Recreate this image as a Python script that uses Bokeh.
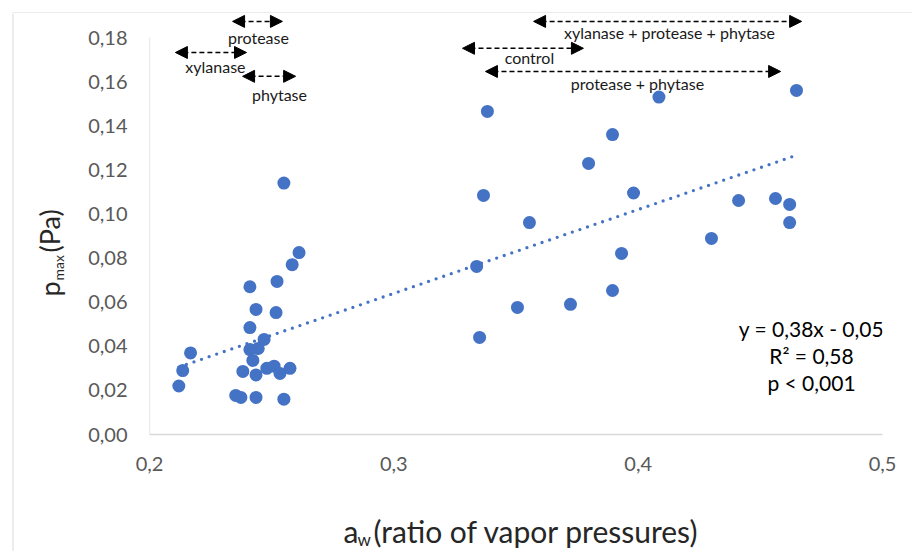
import math
from bokeh.plotting import figure
from bokeh.layouts import row, column
from bokeh.models import (Range1d, FixedTicker, CustomJSTickFormatter, Label,
                          Arrow, NormalHead)
from bokeh.core.properties import value
from bokeh.embed import file_html
from bokeh.resources import INLINE

# ---------------- data ----------------
aw = [0.212, 0.2136, 0.2168, 0.2353, 0.2374, 0.2436, 0.255, 0.2382, 0.2436,
      0.248, 0.251, 0.2534, 0.2575, 0.2423, 0.2411, 0.2445, 0.2469, 0.2411,
      0.2436, 0.2518, 0.2411, 0.2522, 0.2584, 0.2612, 0.255,
      0.3383, 0.3895, 0.3797, 0.3981, 0.3367, 0.3555, 0.3932, 0.3339, 0.3895,
      0.3723, 0.3506, 0.3351, 0.4085, 0.4648, 0.4411, 0.4562, 0.462, 0.462,
      0.430]
pmax = [0.022, 0.029, 0.037, 0.0177, 0.0168, 0.0168, 0.016, 0.0286, 0.027,
        0.030, 0.031, 0.0277, 0.030, 0.0336, 0.0385, 0.039, 0.0431, 0.0485,
        0.0567, 0.0553, 0.067, 0.0694, 0.077, 0.0825, 0.114,
        0.1465, 0.136, 0.1229, 0.1095, 0.1084, 0.0961, 0.0821, 0.0762, 0.0653,
        0.0590, 0.0576, 0.0440, 0.153, 0.156, 0.1061, 0.107, 0.1043, 0.0961,
        0.0889]

SLOPE = 0.38
INTERCEPT = -0.05
eq_lines = ["y = 0,38x - 0,05", "R\u00b2 = 0,58", "p < 0,001"]

x_ticks = [0.2, 0.3, 0.4, 0.5]
y_ticks = [0.0, 0.02, 0.04, 0.06, 0.08, 0.10, 0.12, 0.14, 0.16, 0.18]

groups = ["protease", "xylanase", "phytase",
          "xylanase + protease + phytase", "control", "protease + phytase"]
group_start = [0.2340, 0.2106, 0.2381, 0.3572, 0.3281, 0.3375]
group_end = [0.2544, 0.2397, 0.2598, 0.4669, 0.3776, 0.4583]
group_level = [0.1873, 0.1732, 0.1624, 0.1873, 0.1751, 0.1646]
group_label_x = [0.2446, 0.2270, 0.2532, 0.4128, 0.3555, 0.3997]
group_label_y = [0.1800, 0.1669, 0.1542, 0.1823, 0.1710, 0.1592]

x_title = ["a", "w", "(ratio of vapor pressures)"]
y_title = ["p", "max", "(Pa)"]

# ---------------- layout (page pixels) ----------------
PAGE_W, PAGE_H = 912, 551
TOP_H = 13                 # strip holding the chart's top border line
LEFT_W = 70                # strip holding the y title
MAIN_BOTTOM = 490          # page y where the main figure ends
FRAME_L, FRAME_R, FRAME_B = 149, 882, 434
X0, X1 = 0.2, 0.5
Y0 = 0.0
Y_PER_PX = 0.18 / (FRAME_B - 37)
Y1 = Y0 + (FRAME_B - TOP_H) * Y_PER_PX

FONT = "Lato"
BLUE = "#4472C4"
BORDER = "#d9d9d9"
TITLE_C = "#262626"

main_w = PAGE_W - LEFT_W
main_h = MAIN_BOTTOM - TOP_H


def bare(width, height, x_rng, y_rng):
    f = figure(width=width, height=height, output_backend="svg",
               toolbar_location=None, x_range=Range1d(*x_rng),
               y_range=Range1d(*y_rng), x_axis_type=None, y_axis_type=None,
               min_border=0, min_border_left=0, min_border_right=0,
               min_border_top=0, min_border_bottom=0)
    f.outline_line_color = None
    f.xgrid.visible = False
    f.ygrid.visible = False
    f.background_fill_color = "white"
    f.border_fill_color = "white"
    return f


# ---- top strip: top border line (page y measured downward -> negated)
top = bare(PAGE_W, TOP_H, (0, PAGE_W), (-TOP_H, 0))
top.segment(x0=[12], y0=[-12.5], x1=[PAGE_W], y1=[-12.5], line_color=BORDER, line_width=1)

# ---- left strip: left border line and y title
left_h = PAGE_H - TOP_H
left = bare(LEFT_W, left_h, (0, LEFT_W), (-PAGE_H, -TOP_H))
left.segment(x0=[12.5], y0=[-TOP_H], x1=[12.5], y1=[-PAGE_H], line_color=BORDER, line_width=1)
yt_pos = [(49, 296, 27), (57.5, 280, 14), (49, 252, 27)]
for txt, (bx, by, fs) in zip(y_title, yt_pos):
    left.add_layout(Label(x=bx, y=-by, text=txt, text_font=FONT,
                          text_font_size=f"{fs}px", text_color=TITLE_C,
                          angle=math.pi / 2, text_baseline="middle",
                          text_align="left"))

# ---- main figure
p = figure(width=main_w, height=main_h, output_backend="svg", toolbar_location=None,
           x_range=Range1d(X0, X1), y_range=Range1d(Y0, Y1),
           min_border_left=FRAME_L - LEFT_W, min_border_right=PAGE_W - FRAME_R,
           min_border_bottom=MAIN_BOTTOM - FRAME_B, min_border_top=0)
p.outline_line_color = None
p.xgrid.visible = False
p.ygrid.visible = False
p.background_fill_color = "white"
p.border_fill_color = "white"

for ax in (p.xaxis[0], p.yaxis[0]):
    ax.major_tick_out = 0
    ax.major_tick_in = 0
    ax.minor_tick_out = 0
    ax.minor_tick_in = 0
    ax.major_label_text_font = FONT
    ax.major_label_text_font_size = "20px"
    ax.major_label_text_color = "#595959"
p.xaxis[0].ticker = FixedTicker(ticks=x_ticks)
p.xaxis[0].formatter = CustomJSTickFormatter(code="return tick.toFixed(1).replace('.', ',');")
p.xaxis[0].axis_line_color = BORDER
p.xaxis[0].axis_line_width = 1.3
p.xaxis[0].major_label_standoff = 22
p.yaxis[0].ticker = FixedTicker(ticks=y_ticks)
p.yaxis[0].formatter = CustomJSTickFormatter(code="return tick.toFixed(2).replace('.', ',');")
p.yaxis[0].axis_line_color = None
p.yaxis[0].major_label_standoff = 22
p.segment(x0=[X0], y0=[y_ticks[0]], x1=[X0], y1=[y_ticks[-1]],
          line_color=BORDER, line_width=1.3)

# trend line
tx = [min(aw), max(aw)]
ty = [SLOPE * v + INTERCEPT for v in tx]
p.line(tx, ty, line_color=BLUE, line_width=3.3, line_dash="0 8", line_cap="round")

# points
p.scatter(aw, pmax, size=13, fill_color=BLUE, line_color=None)

# group arrows + labels
for s, e, lv in zip(group_start, group_end, group_level):
    p.add_layout(Arrow(x_start=s, y_start=lv, x_end=e, y_end=lv,
                       line_color="black", line_width=1.5, line_dash="5 3",
                       start=NormalHead(size=12, fill_color="black", line_color="black"),
                       end=NormalHead(size=12, fill_color="black", line_color="black")))
p.text(x=group_label_x, y=group_label_y, text=groups, text_font=value(FONT),
       text_font_size="16px", text_color="#1a1a1a", text_align="center",
       text_baseline="middle")

# equation block
eq_y = [0.04807, 0.03582, 0.02358]
p.text(x=[0.47094] * 3, y=eq_y, text=eq_lines, text_font=value(FONT),
       text_font_size="21px", text_color="black", text_align="center",
       text_baseline="middle")

# ---- bottom strip: x title (its frame lines up with the main frame)
bot_h = PAGE_H - MAIN_BOTTOM
bot = bare(main_w, bot_h, (FRAME_L, FRAME_R), (-PAGE_H, -MAIN_BOTTOM))
xt_pos = [(343, 530.5, 30), (357, 538.5, 17), (373, 530.5, 30)]
for txt, (bx, by, fs) in zip(x_title, xt_pos):
    bot.add_layout(Label(x=bx, y=-by, text=txt, text_font=FONT,
                         text_font_size=f"{fs}px", text_color=TITLE_C,
                         text_baseline="middle", text_align="left"))

layout = column(top, row(left, column(p, bot, spacing=0), spacing=0), spacing=0)
open("out.html", "w").write(file_html(layout, INLINE))
